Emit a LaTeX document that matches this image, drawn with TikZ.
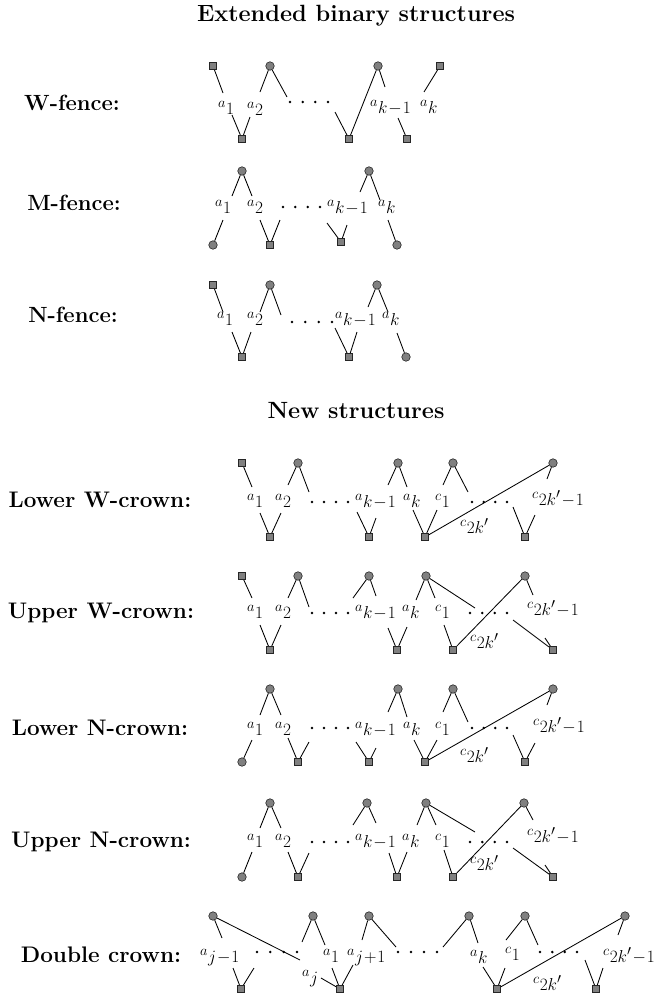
\documentclass[tikz,border=0pt]{standalone}
\usepackage{amsmath}
\tikzset{
  vsq/.style={rectangle, draw=black!85, fill=black!50, line width=0.6pt, minimum size=7.5pt, inner sep=0pt},
  vci/.style={circle, draw=black!85, fill=black!50, line width=0.6pt, minimum size=8.5pt, inner sep=0pt},
  edge/.style={line width=0.85pt},
  lbl/.style={anchor=base west, inner sep=0pt, font=\fontsize{19}{22}\selectfont},
  head/.style={anchor=base, inner sep=0pt, font=\fontsize{23.5}{28}\selectfont\bfseries},
  fence/.style={anchor=base, inner sep=0pt, font=\fontsize{22}{26}\selectfont\bfseries},
  crown/.style={anchor=base, inner sep=0pt, font=\fontsize{22.5}{27}\selectfont\bfseries},
}
% a short edge from a vertex to a named free end
\newcommand\stub[3]{\coordinate (#2) at (#3); \draw[edge] (#1) -- (#2);}
% four dots between x1 and x2 at height y
\newcommand\dotrow[3]{\foreach \i in {0,1,2,3} \fill ({#1+\i*(#2-#1)/3},#3) circle[radius=1.4pt];}
\newcommand\km{k\mkern1mu{-}\mkern1mu1}
\newcommand\cc{2k'\mkern1mu{-}\mkern1mu1}
\begin{document}
\begin{tikzpicture}[x=1pt,y=-1pt]
\useasboundingbox (0,0) rectangle (660,996);

% ---------------- headings ----------------
\node[head] (h1) at (356,21) {Extended binary structures};
\node[head] (h2) at (356,418) {New structures};

\node[fence] (n1) at (72,110) {W-fence:};
\node[fence] (n2) at (74,210) {M-fence:};
\node[fence] (n3) at (73,322) {N-fence:};
\node[crown] (n4) at (100,507) {Lower W-crown:};
\node[crown] (n5) at (101,618) {Upper W-crown:};
\node[crown] (n6) at (100,735) {Lower N-crown:};
\node[crown] (n7) at (101,847) {Upper N-crown:};
\node[crown] (n8) at (101,962) {Double crown:};

% ---------------- W-fence ----------------
\node[vsq] (wA1) at (213,66) {};
\node[vci] (wA2) at (270,66) {};
\node[vci] (wA3) at (378,66) {};
\node[vsq] (wA4) at (440,66) {};
\node[vsq] (wB1) at (242,139) {};
\node[vsq] (wB2) at (349,139) {};
\node[vsq] (wB3) at (407,139) {};
\node[lbl] (wl1) at (218,114) {${}^{a}1$};
\node[lbl] (wl2) at (247,115) {${}^{a}2$};
\node[lbl] (wl3) at (370,113) {${}^{a}\km$};
\node[lbl] (wl4) at (420,113) {${}^{a}k$};
\dotrow{290}{328}{102}
\stub{wA1}{w1}{223,93}
\stub{wB1}{w2}{232,115}
\stub{wA2}{w3}{260,92}
\stub{wB1}{w4}{250,117}
\stub{wA2}{w5}{287,97}
\stub{wB2}{w6}{335,112}
\draw[edge] (wB2) -- (wA3);
\stub{wA3}{w7}{385,87}
\stub{wA4}{w8}{424,92}
\stub{wB3}{w9}{398,118}

% ---------------- M-fence ----------------
\node[vci] (mT1) at (242,171) {};
\node[vci] (mT2) at (369,171) {};
\node[vci] (mB1) at (213,245) {};
\node[vsq] (mB2) at (270,245) {};
\node[vsq] (mB3) at (341,242) {};
\node[vci] (mB4) at (397,245) {};
\node[lbl] (ml1) at (215,213) {${}^{a}1$};
\node[lbl] (ml2) at (247,213) {${}^{a}2$};
\node[lbl] (ml3) at (327,213) {${}^{a}\km$};
\node[lbl] (ml4) at (378,213) {${}^{a}k$};
\dotrow{283}{320}{207}
\stub{mT1}{m1}{232,196}
\stub{mT1}{m2}{252,196}
\stub{mB1}{m3}{223,220}
\stub{mB2}{m4}{260,220}
\stub{mB2}{m5}{280,220}
\stub{mB3}{m6}{327,223}
\stub{mB3}{m7}{347,225}
\stub{mT2}{m8}{360,192}
\stub{mT2}{m9}{380,200}
\stub{mB4}{m10}{388,220}

% ---------------- N-fence ----------------
\node[vsq] (nT1) at (213,285) {};
\node[vci] (nT2) at (270,285) {};
\node[vci] (nT3) at (377,285) {};
\node[vsq] (nB1) at (242,357) {};
\node[vsq] (nB2) at (349,357) {};
\node[vci] (nB3) at (406,357) {};
\node[lbl] (nl1) at (217,325) {${}^{a}1$};
\node[lbl] (nl2) at (247,325) {${}^{a}2$};
\node[lbl] (nl3) at (335,325) {${}^{a}\km$};
\node[lbl] (nl4) at (382,325) {${}^{a}k$};
\dotrow{292}{332}{322}
\stub{nT1}{n1e}{223,312}
\stub{nB1}{n2e}{232,332}
\stub{nT2}{n3e}{260,312}
\stub{nB1}{n4e}{251,332}
\stub{nT2}{n5e}{281,315}
\stub{nB2}{n6e}{335,328}
\stub{nB2}{n7e}{357,332}
\stub{nT3}{n8e}{368,307}
\stub{nT3}{n9e}{388,312}
\stub{nB3}{n10e}{397,333}

% ---------------- Lower W-crown ----------------
\node[vsq] (aT1) at (242,463) {};
\node[vci] (aT2) at (298,463) {};
\node[vci] (aT3) at (398,463) {};
\node[vci] (aT4) at (453,463) {};
\node[vci] (aT5) at (553,463) {};
\node[vsq] (aB1) at (270,537) {};
\node[vsq] (aB2) at (369,537) {};
\node[vsq] (aB3) at (425,537) {};
\node[vsq] (aB4) at (525,537) {};
\node[lbl] (al1) at (247,507) {${}^{a}1$};
\node[lbl] (al2) at (275,507) {${}^{a}2$};
\node[lbl] (al3) at (355,507) {${}^{a}\km$};
\node[lbl] (al4) at (403,507) {${}^{a}k$};
\node[lbl] (al5) at (435,507) {${}^{c}1$};
\node[lbl] (al6) at (532,505) {${}^{c}\cc$};
\node[lbl] (al7) at (460,533) {${}^{c}2k'$};
\dotrow{312}{348}{502}
\dotrow{472}{507}{502}
\stub{aT1}{a1}{252,487}
\stub{aB1}{a2}{260,513}
\stub{aT2}{a3}{288,485}
\stub{aB1}{a4}{281,513}
\stub{aT2}{a5}{309,492}
\stub{aB2}{a6}{357,512}
\stub{aB2}{a7}{376,518}
\stub{aT3}{a8}{388,485}
\stub{aT3}{a9}{407,487}
\stub{aB3}{a10}{413,510}
\stub{aB3}{a11}{437,510}
\stub{aT4}{a12}{443,485}
\stub{aT4}{a13}{468,492}
\stub{aB4}{a14}{513,507}
\stub{aB4}{a15}{535,515}
\stub{aT5}{a16}{547,479}
\draw[edge] (aB3) -- (aT5);

% ---------------- Upper W-crown ----------------
\node[vsq] (bT1) at (242,576) {};
\node[vci] (bT2) at (298,576) {};
\node[vci] (bT3) at (369,576) {};
\node[vci] (bT4) at (426,576) {};
\node[vci] (bT5) at (525,576) {};
\node[vsq] (bB1) at (270,650) {};
\node[vsq] (bB2) at (397,650) {};
\node[vsq] (bB3) at (453,650) {};
\node[vsq] (bB4) at (553,650) {};
\node[lbl] (bl1) at (247,618) {${}^{a}1$};
\node[lbl] (bl2) at (275,618) {${}^{a}2$};
\node[lbl] (bl3) at (355,618) {${}^{a}\km$};
\node[lbl] (bl4) at (402,618) {${}^{a}k$};
\node[lbl] (bl5) at (435,618) {${}^{c}1$};
\node[lbl] (bl6) at (527,615) {${}^{c}\cc$};
\node[lbl] (bl7) at (470,648) {${}^{c}2k'$};
\dotrow{312}{348}{613}
\dotrow{470}{507}{613}
\stub{bT1}{b1}{252,598}
\stub{bB1}{b2}{260,625}
\stub{bT2}{b3}{288,598}
\stub{bB1}{b4}{281,625}
\stub{bT2}{b5}{309,607}
\stub{bT3}{b6}{353,598}
\stub{bT3}{b7}{376,596}
\stub{bB2}{b8}{388,628}
\stub{bB2}{b9}{407,627}
\stub{bT4}{b10}{416,600}
\stub{bT4}{b11}{435,598}
\stub{bT4}{b12}{475,608}
\stub{bB3}{b13}{444,625}
\draw[edge] (bB3) -- (bT5);
\stub{bT5}{b14}{533,595}
\stub{bB4}{b15}{513,620}
\stub{bB4}{b16}{545,638}

% ---------------- Lower N-crown ----------------
\node[vci] (cT1) at (270,689) {};
\node[vci] (cT2) at (398,689) {};
\node[vci] (cT3) at (453,689) {};
\node[vci] (cT4) at (553,689) {};
\node[vci] (cB1) at (242,762) {};
\node[vsq] (cB2) at (298,762) {};
\node[vsq] (cB3) at (369,762) {};
\node[vsq] (cB4) at (425,762) {};
\node[vsq] (cB5) at (525,762) {};
\node[lbl] (cl1) at (247,735) {${}^{a}1$};
\node[lbl] (cl2) at (275,735) {${}^{a}2$};
\node[lbl] (cl3) at (355,735) {${}^{a}\km$};
\node[lbl] (cl4) at (403,735) {${}^{a}k$};
\node[lbl] (cl5) at (435,735) {${}^{c}1$};
\node[lbl] (cl6) at (533,732) {${}^{c}\cc$};
\node[lbl] (cl7) at (460,762) {${}^{c}2k'$};
\dotrow{312}{348}{728}
\dotrow{472}{507}{728}
\stub{cT1}{c1}{260,715}
\stub{cT1}{c2}{281,715}
\stub{cB1}{c3}{252,740}
\stub{cB2}{c4}{288,738}
\stub{cB2}{c5}{309,742}
\stub{cB3}{c6}{356,742}
\stub{cB3}{c7}{376,748}
\stub{cT2}{c8}{388,712}
\stub{cT2}{c9}{407,717}
\stub{cB4}{c10}{414,740}
\stub{cB4}{c11}{437,740}
\stub{cT3}{c12}{443,712}
\stub{cT3}{c13}{468,722}
\stub{cB5}{c14}{513,735}
\stub{cB5}{c15}{535,743}
\stub{cT4}{c16}{547,705}
\draw[edge] (cB4) -- (cT4);

% ---------------- Upper N-crown ----------------
\node[vci] (dT1) at (270,803) {};
\node[vci] (dT2) at (367,803) {};
\node[vci] (dT3) at (426,803) {};
\node[vci] (dT4) at (524,803) {};
\node[vci] (dB1) at (242,877) {};
\node[vsq] (dB2) at (298,877) {};
\node[vsq] (dB3) at (397,877) {};
\node[vsq] (dB4) at (453,877) {};
\node[vsq] (dB5) at (553,877) {};
\node[lbl] (dl1) at (247,847) {${}^{a}1$};
\node[lbl] (dl2) at (275,847) {${}^{a}2$};
\node[lbl] (dl3) at (355,847) {${}^{a}\km$};
\node[lbl] (dl4) at (402,847) {${}^{a}k$};
\node[lbl] (dl5) at (435,847) {${}^{c}1$};
\node[lbl] (dl6) at (527,842) {${}^{c}\cc$};
\node[lbl] (dl7) at (470,870) {${}^{c}2k'$};
\dotrow{312}{348}{842}
\dotrow{470}{507}{842}
\stub{dT1}{d1}{260,828}
\stub{dT1}{d2}{281,828}
\stub{dB1}{d3}{252,852}
\stub{dB2}{d4}{288,852}
\stub{dB2}{d5}{309,853}
\stub{dT2}{d6}{353,825}
\stub{dT2}{d7}{376,823}
\stub{dB3}{d8}{389,853}
\stub{dB3}{d9}{407,852}
\stub{dT3}{d10}{417,825}
\stub{dT3}{d11}{436,825}
\stub{dT3}{d12}{475,832}
\stub{dB4}{d13}{444,850}
\draw[edge] (dB4) -- (dT4);
\stub{dT4}{d14}{533,820}
\stub{dB5}{d15}{513,848}
\stub{dB5}{d16}{545,865}

% ---------------- Double crown ----------------
\node[vci] (eT1) at (213,916) {};
\node[vci] (eT2) at (313,916) {};
\node[vci] (eT3) at (369,916) {};
\node[vci] (eT4) at (469,916) {};
\node[vci] (eT5) at (525,916) {};
\node[vci] (eT6) at (625,916) {};
\node[vsq] (eB1) at (241,989) {};
\node[vsq] (eB2) at (340,989) {};
\node[vsq] (eB3) at (497,989) {};
\node[vsq] (eB4) at (596,989) {};
\node[lbl] (el1) at (200,962) {${}^{a}j\mkern1mu{-}\mkern1mu1$};
\node[lbl] (el2) at (302,983) {${}^{a}j$};
\node[lbl] (el3) at (323,962) {${}^{a}1$};
\node[lbl] (el4) at (347,962) {${}^{a}j\mkern1mu{+}\mkern1mu1$};
\node[lbl] (el5) at (470,963) {${}^{a}k$};
\node[lbl] (el6) at (505,960) {${}^{c}1$};
\node[lbl] (el7) at (533,990) {${}^{c}2k'$};
\node[lbl] (el8) at (603,962) {${}^{c}\cc$};
\dotrow{257}{297}{952}
\dotrow{398}{437}{952}
\dotrow{540}{577}{952}
\stub{eT1}{e1}{222,938}
\stub{eT1}{e2}{300,960}
\stub{eB2}{e3}{321,978}
\stub{eB1}{e4}{233,968}
\stub{eB1}{e5}{254,968}
\stub{eT2}{e6}{302,942}
\stub{eT2}{e7}{325,945}
\stub{eB2}{e8}{332,968}
\stub{eB2}{e9}{353,965}
\stub{eT3}{e10}{362,940}
\stub{eT3}{e11}{396,947}
\stub{eT4}{e12}{443,947}
\stub{eT4}{e13}{478,943}
\stub{eB3}{e14}{483,967}
\stub{eB3}{e15}{505,968}
\draw[edge] (eB3) -- (eT6);
\stub{eT5}{e16}{506,940}
\stub{eT5}{e17}{538,945}
\stub{eB4}{e18}{585,960}
\stub{eB4}{e19}{603,968}
\stub{eT6}{e20}{618,935}
\end{tikzpicture}
\end{document}
